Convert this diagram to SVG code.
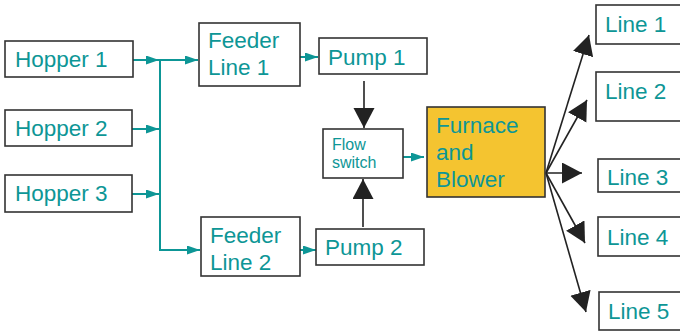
<svg xmlns="http://www.w3.org/2000/svg" width="680" height="331" viewBox="0 0 680 331">
<defs>
<style>
.box{fill:#fff;stroke:#333;stroke-width:1.6}
.fur{fill:#F4C430;stroke:#333;stroke-width:1.6}
.t{font-family:"Liberation Sans",Arial,sans-serif;font-size:22.5px;fill:#0d9696}
.s{font-family:"Liberation Sans",Arial,sans-serif;font-size:16px;fill:#0d9696}
.tl{stroke:#0d9696;stroke-width:2;fill:none}
.bl{stroke:#222;stroke-width:1.6;fill:none}
</style>
<marker id="ta" markerUnits="userSpaceOnUse" markerWidth="14" markerHeight="10" refX="13" refY="4.5" orient="auto"><path d="M0,0 L13,4.5 L0,9 z" fill="#0d9696"/></marker>
<marker id="ba" markerUnits="userSpaceOnUse" markerWidth="22" markerHeight="22" refX="20" refY="10.5" orient="auto"><path d="M0,0 L20,10.5 L0,21 z" fill="#222"/></marker>
</defs>
<g id="connectors">
<line class="tl" x1="133" y1="60" x2="159" y2="60" marker-end="url(#ta)"/>
<line class="tl" x1="132" y1="129" x2="159" y2="129" marker-end="url(#ta)"/>
<line class="tl" x1="132" y1="194" x2="159" y2="194" marker-end="url(#ta)"/>
<line class="tl" x1="160" y1="59" x2="160" y2="251"/>
<line class="tl" x1="159" y1="60" x2="198" y2="60" marker-end="url(#ta)"/>
<line class="tl" x1="159" y1="250" x2="200" y2="250" marker-end="url(#ta)"/>
<line class="tl" x1="300" y1="57" x2="318" y2="57" marker-end="url(#ta)"/>
<line class="tl" x1="300" y1="250" x2="316" y2="250" marker-end="url(#ta)"/>
<line class="tl" x1="403" y1="157" x2="424" y2="157" marker-end="url(#ta)"/>
<line class="bl" x1="364" y1="81" x2="364" y2="128" marker-end="url(#ba)"/>
<line class="bl" x1="363" y1="227" x2="363" y2="179" marker-end="url(#ba)"/>
<line class="bl" x1="546" y1="173" x2="589" y2="35" marker-end="url(#ba)"/>
<line class="bl" x1="546" y1="173" x2="587" y2="100" marker-end="url(#ba)"/>
<line class="bl" x1="546" y1="173" x2="582" y2="173" marker-end="url(#ba)"/>
<line class="bl" x1="546" y1="173" x2="585" y2="243" marker-end="url(#ba)"/>
<line class="bl" x1="546" y1="173" x2="586" y2="312" marker-end="url(#ba)"/>
</g>
<g id="hopper1"><rect class="box" x="5" y="41" width="128" height="36"/><text class="t" x="15" y="67">Hopper 1</text></g>
<g id="hopper2"><rect class="box" x="5" y="110" width="127" height="36"/><text class="t" x="15" y="136">Hopper 2</text></g>
<g id="hopper3"><rect class="box" x="5" y="175" width="127" height="37"/><text class="t" x="15" y="201">Hopper 3</text></g>
<g id="feeder1"><rect class="box" x="199" y="23" width="101" height="63"/><text class="t" x="208" y="48">Feeder</text><text class="t" x="208" y="75">Line 1</text></g>
<g id="feeder2"><rect class="box" x="201" y="217" width="99" height="59"/><text class="t" x="210" y="243">Feeder</text><text class="t" x="210" y="270">Line 2</text></g>
<g id="pump1"><rect class="box" x="319" y="38" width="108" height="36"/><text class="t" x="328" y="65">Pump 1</text></g>
<g id="pump2"><rect class="box" x="316" y="229" width="108" height="36"/><text class="t" x="325" y="255">Pump 2</text></g>
<g id="flowswitch"><rect class="box" x="323" y="129" width="80" height="49"/><text class="s" x="332" y="150">Flow</text><text class="s" x="332" y="168">switch</text></g>
<g id="furnace"><rect class="fur" x="427" y="107" width="118" height="90"/><text class="t" x="436" y="133">Furnace</text><text class="t" x="436" y="160">and</text><text class="t" x="436" y="187">Blower</text></g>
<g id="line1"><rect class="box" x="596" y="5" width="95" height="39"/><text class="t" x="605" y="32">Line 1</text></g>
<g id="line2"><rect class="box" x="596" y="72" width="95" height="49"/><text class="t" x="605" y="99">Line 2</text></g>
<g id="line3"><rect class="box" x="598" y="159" width="93" height="33"/><text class="t" x="607" y="185">Line 3</text></g>
<g id="line4"><rect class="box" x="598" y="217" width="93" height="39"/><text class="t" x="607" y="245">Line 4</text></g>
<g id="line5"><rect class="box" x="599" y="292" width="92" height="38"/><text class="t" x="608" y="319">Line 5</text></g>
</svg>
